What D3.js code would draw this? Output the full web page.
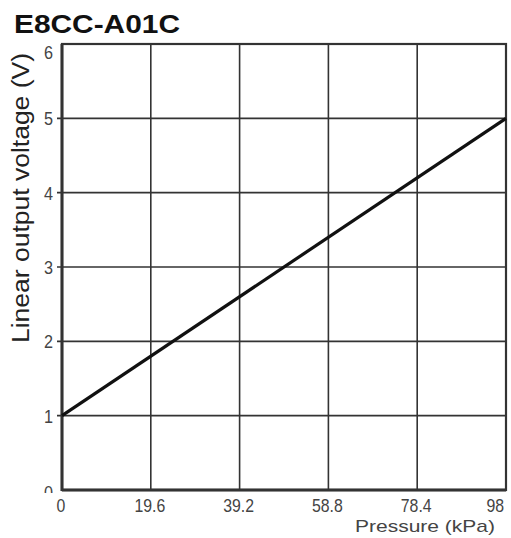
<!DOCTYPE html>
<html><head><meta charset="utf-8">
<script src="https://cdn.jsdelivr.net/npm/d3@7"></script>
<style>body{margin:0;background:#fff}svg{display:block}</style>
</head><body>
<svg id="c" width="511" height="538"></svg>
<script>
const title = "E8CC-A01C";
const xTicks = [0, 19.6, 39.2, 58.8, 78.4, 98];
const xTickLabels = ["0", "19.6", "39.2", "58.8", "78.4", "98"];
const yTicks = [0, 1, 2, 3, 4, 5, 6];
const yTickLabels = ["0", "1", "2", "3", "4", "5", "6"];
const pressure = [0, 98];
const voltage = [1, 5];
const xLabel = "Pressure (kPa)";
const yLabel = "Linear output voltage (V)";

const svg = d3.select("#c");
const L = 62, R = 506, T = 44, B = 490;
const x = d3.scaleLinear().domain([0, 98]).range([L, R]);
const y = d3.scaleLinear().domain([0, 6]).range([B, T]);
const font = "'Liberation Sans',Arial,sans-serif";

svg.append("defs").append("clipPath").attr("id", "clip0")
  .append("rect").attr("x", 0).attr("y", 0).attr("width", 511).attr("height", B + 3);

// grid
const g = svg.append("g");
g.selectAll("line.vx").data(xTicks.slice(1, -1)).enter().append("line")
  .attr("x1", d => x(d)).attr("x2", d => x(d)).attr("y1", T).attr("y2", B)
  .attr("stroke", "#333").attr("stroke-width", 1.6);
g.selectAll("line.hy").data(yTicks.slice(1, -1)).enter().append("line")
  .attr("x1", L - 5).attr("x2", R).attr("y1", d => y(d)).attr("y2", d => y(d))
  .attr("stroke", "#333").attr("stroke-width", 1.6);

// y tick labels (the "0" is clipped at the axis, as in the reference)
const yLab = svg.append("g");
yLab.selectAll("text").data(yTicks.slice(1)).enter().append("text")
  .attr("transform", d => `translate(${L - 9},${y(d) + 7 + (d === 6 ? 8 : 0)}) scale(0.9,1)`)
  .attr("text-anchor", "end").attr("font-family", font).attr("font-size", 18)
  .attr("fill", "#444").text((d, i) => yTickLabels[i + 1]);
svg.append("g").attr("clip-path", "url(#clip0)").append("text")
  .attr("transform", `translate(${L - 9},${y(yTicks[0]) + 9}) scale(0.9,1)`)
  .attr("text-anchor", "end").attr("font-family", font).attr("font-size", 18)
  .attr("fill", "#444").text(yTickLabels[0]);

// frame
svg.append("rect").attr("x", L).attr("y", T).attr("width", R - L).attr("height", B - T)
  .attr("fill", "none").attr("stroke", "#333").attr("stroke-width", 2.2);
svg.append("line").attr("x1", L).attr("x2", L).attr("y1", T).attr("y2", B + 1)
  .attr("stroke", "#333").attr("stroke-width", 3);
svg.append("line").attr("x1", L).attr("x2", R).attr("y1", B).attr("y2", B)
  .attr("stroke", "#333").attr("stroke-width", 3);

// line
const line = d3.line().x((d, i) => x(pressure[i])).y(d => y(d));
svg.append("path").datum(voltage).attr("d", line)
  .attr("fill", "none").attr("stroke", "#111").attr("stroke-width", 3.2);

// x tick labels
svg.selectAll("text.xt").data(xTicks).enter().append("text")
  .attr("transform", (d, i) => `translate(${i === xTicks.length - 1 ? x(d) - 2 : x(d) - 1},${B + 22}) scale(0.88,1)`)
  .attr("text-anchor", (d, i) => i === xTicks.length - 1 ? "end" : "middle")
  .attr("font-family", font).attr("font-size", 18)
  .attr("fill", "#444").text((d, i) => xTickLabels[i]);

// title
svg.append("text").attr("x", 14).attr("y", 33)
  .attr("font-family", font).attr("font-weight", "bold")
  .attr("font-size", 25).attr("textLength", 166).attr("lengthAdjust", "spacingAndGlyphs")
  .attr("fill", "#111").text(title);

// axis titles
svg.append("text").attr("x", 355).attr("y", 532)
  .attr("font-family", font).attr("font-size", 17)
  .attr("textLength", 140).attr("lengthAdjust", "spacingAndGlyphs")
  .attr("fill", "#444").text(xLabel);
svg.append("text").attr("transform", "translate(29,198) rotate(-90)").attr("text-anchor", "middle")
  .attr("font-family", font).attr("font-size", 23)
  .attr("textLength", 290).attr("lengthAdjust", "spacingAndGlyphs")
  .attr("fill", "#222").text(yLabel);
</script>
</body></html>
